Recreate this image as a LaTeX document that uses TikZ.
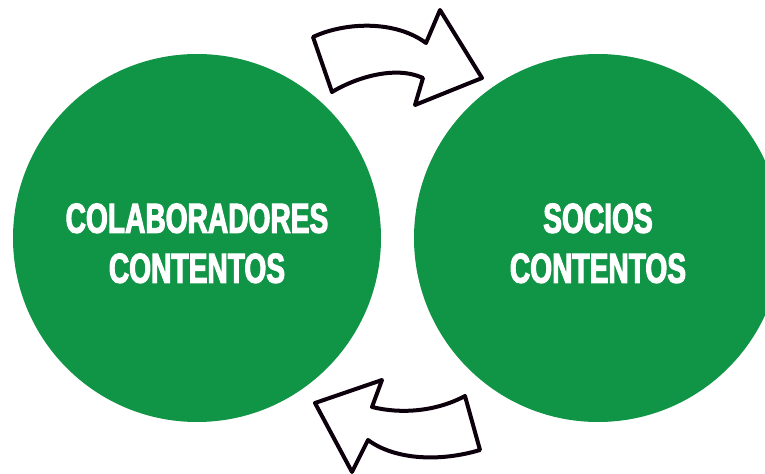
\documentclass[tikz,border=0pt]{standalone}
\usepackage{fontspec}
\newfontfamily\headfont[FakeStretch=0.67,FakeBold=2.5]{Liberation Sans Bold}
\definecolor{verde}{RGB}{16,148,70}
\begin{document}
\begin{tikzpicture}[x=0.75pt,y=-0.75pt]
		\tikzstyle{circ}=[circle,fill=verde,minimum size=276pt,inner sep=0pt]
		\tikzstyle{rotulo}=[text=white,align=center,font=\headfont\fontsize{31.5}{37.5}\selectfont]
		\tikzstyle{flecha}=[draw=black!90!violet,line width=3pt,line join=round,fill=white]
		\useasboundingbox (0,0) rectangle (765,474);
		\clip (0,0) rectangle (765,474);
		\node[circ] (c_1) at (197,238) {};
		\node[circ] (c_2) at (598,238) {};
		\node[rotulo] (t_1) at ([yshift=-4pt]c_1.center) {COLABORADORES\\CONTENTOS};
		\node[rotulo] (t_2) at ([yshift=-4pt]c_2.center) {SOCIOS\\CONTENTOS};
		% flecha de arriba
		\draw[flecha] (313,37) .. controls (345,22) and (395,20) .. (426,43) -- (440,10) -- (482,78) -- (415,105) -- (423,78)
			.. controls (395,65) and (355,78) .. (332,92) -- cycle;
		% flecha de abajo
		\draw[flecha] (465,396) .. controls (435,412) and (400,414) .. (372,407) -- (382,380) -- (315,403) -- (352,472) -- (368,440)
			.. controls (395,460) and (440,462) .. (480,450) -- cycle;
	\end{tikzpicture}
\end{document}
